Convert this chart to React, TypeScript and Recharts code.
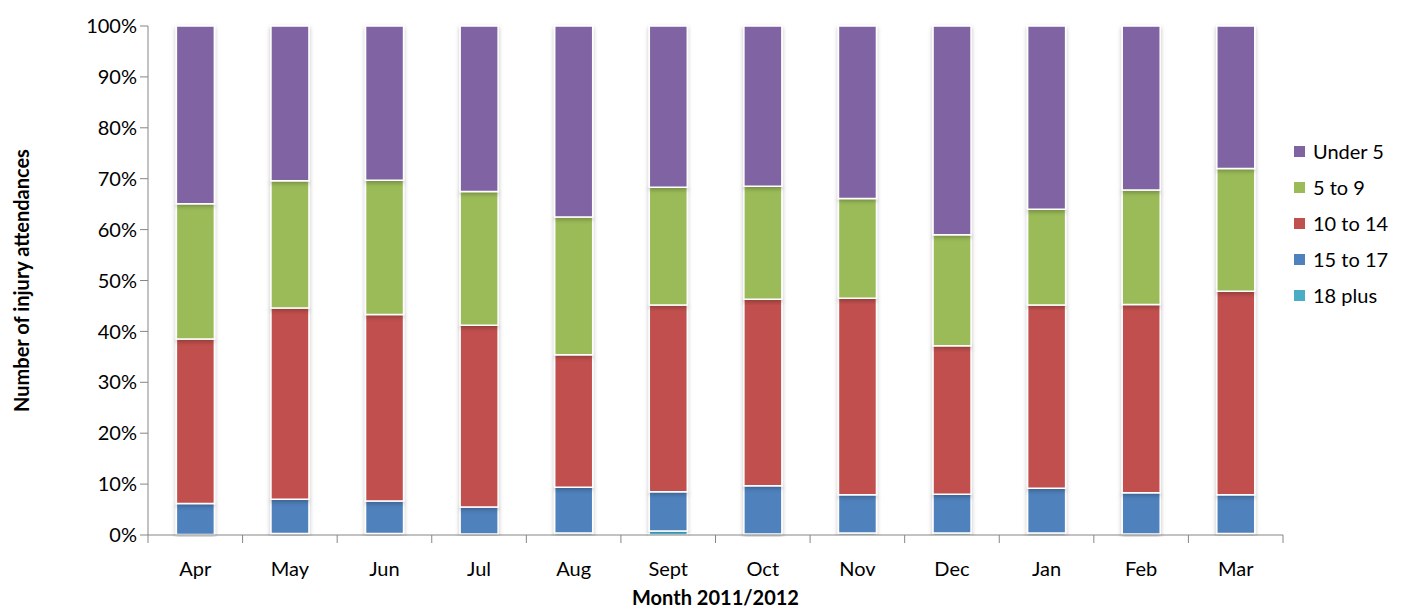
import React from "react";
import { BarChart, Bar, XAxis, YAxis, Legend } from "recharts";

const months = ["Apr", "May", "Jun", "Jul", "Aug", "Sept", "Oct", "Nov", "Dec", "Jan", "Feb", "Mar"];
const plus18 = [0.1, 0.3, 0.3, 0.2, 0.4, 0.8, 0.2, 0.4, 0.4, 0.4, 0.2, 0.3];
const age15to17 = [6.1, 6.7, 6.4, 5.3, 9.0, 7.7, 9.5, 7.5, 7.6, 8.8, 8.1, 7.6];
const age10to14 = [32.3, 37.6, 36.6, 35.7, 26.0, 36.7, 36.6, 38.6, 29.2, 36.0, 37.0, 40.0];
const age5to9 = [26.6, 25.0, 26.4, 26.3, 27.1, 23.1, 22.2, 19.6, 21.8, 18.8, 22.5, 24.1];
const under5 = [34.9, 30.4, 30.3, 32.5, 37.5, 31.7, 31.5, 33.9, 41.0, 36.0, 32.2, 28.0];
const yTicks = [0, 0.1, 0.2, 0.3, 0.4, 0.5, 0.6, 0.7, 0.8, 0.9, 1];

const series = [
  { key: "plus18", name: "18 plus", color: "#4BACC6" },
  { key: "age15to17", name: "15 to 17", color: "#4F81BD" },
  { key: "age10to14", name: "10 to 14", color: "#C0504D" },
  { key: "age5to9", name: "5 to 9", color: "#9BBB59" },
  { key: "under5", name: "Under 5", color: "#8064A2" },
];

const data = months.map((m, i) => ({
  month: m,
  plus18: plus18[i],
  age15to17: age15to17[i],
  age10to14: age10to14[i],
  age5to9: age5to9[i],
  under5: under5[i],
}));

const font = "Lato, 'Open Sans', sans-serif";
const axisGrey = "#868686";
const TICK_MARGIN = 21;
const TICK_SIZE = 6;

const LegendBox = () => (
  <div style={{ fontFamily: font, fontSize: 20, color: "#000" }}>
    {[...series].reverse().map((s) => (
      <div key={s.key} style={{ display: "flex", alignItems: "center", height: 36 }}>
        <span style={{ width: 11, height: 11, background: s.color, marginRight: 8 }} />
        {s.name}
      </div>
    ))}
  </div>
);

// month label plus Excel-style tick marks between categories
const MonthTick = (props: any) => {
  const { x, y, width, visibleTicksCount, index, payload } = props;
  const step = width / visibleTicksCount;
  const axisY = y - TICK_MARGIN - TICK_SIZE;
  const left = x - step / 2;
  return (
    <g>
      <line x1={left} x2={left} y1={axisY} y2={axisY + 8} stroke={axisGrey} />
      {index === visibleTicksCount - 1 && (
        <line x1={left + step} x2={left + step} y1={axisY} y2={axisY + 8} stroke={axisGrey} />
      )}
      <text x={x} y={y} dy="0.71em" textAnchor="middle" fill="#000" fontSize={20} fontFamily={font}>
        {payload.value}
      </text>
    </g>
  );
};

export default function App() {
  return (
    <div style={{ position: "absolute", left: 0, top: 0, width: 1422, height: 609, background: "#fff" }}>
      <BarChart
        width={1422}
        height={609}
        data={data}
        stackOffset="expand"
        barCategoryGap="30%"
        margin={{ top: 26, right: 11, bottom: 0, left: 0 }}
      >
        <defs>
          <filter id="barShadow" x="-30%" y="-5%" width="160%" height="110%">
            <feDropShadow dx="0" dy="2" stdDeviation="2" floodColor="#000" floodOpacity="0.25" />
          </filter>
        </defs>
        <XAxis
          dataKey="month"
          height={74}
          tickLine={false}
          tickSize={TICK_SIZE}
          axisLine={{ stroke: axisGrey }}
          tick={<MonthTick />}
          tickMargin={TICK_MARGIN}
          interval={0}
          label={{
            value: "Month 2011/2012",
            position: "insideBottom",
            offset: 4,
            style: { fontWeight: 700, fontSize: 20, fontFamily: font, fill: "#000" },
          }}
        />
        <YAxis
          width={148}
          ticks={yTicks}
          domain={[0, 1]}
          tickFormatter={(v: number) => `${Math.round(v * 100)}%`}
          tick={{ fill: "#000", fontSize: 20, fontFamily: font }}
          stroke={axisGrey}
          tickSize={8}
          tickMargin={3}
          label={{
            value: "Number of injury attendances",
            angle: -90,
            position: "center",
            dx: -52,
            style: { fontWeight: 700, fontSize: 20, fontFamily: font, fill: "#000", textAnchor: "middle" },
          }}
        />
        <Legend
          layout="vertical"
          verticalAlign="top"
          align="right"
          content={() => <LegendBox />}
          wrapperStyle={{ left: 1294, top: 133, width: 128 }}
        />
        {series.map((s) => (
          <Bar
            key={s.key}
            dataKey={s.key}
            name={s.name}
            stackId="a"
            fill={s.color}
            stroke="#fff"
            strokeWidth={1.5}
            style={{ filter: "url(#barShadow)" }}
            isAnimationActive={false}
          />
        ))}
      </BarChart>
    </div>
  );
}
